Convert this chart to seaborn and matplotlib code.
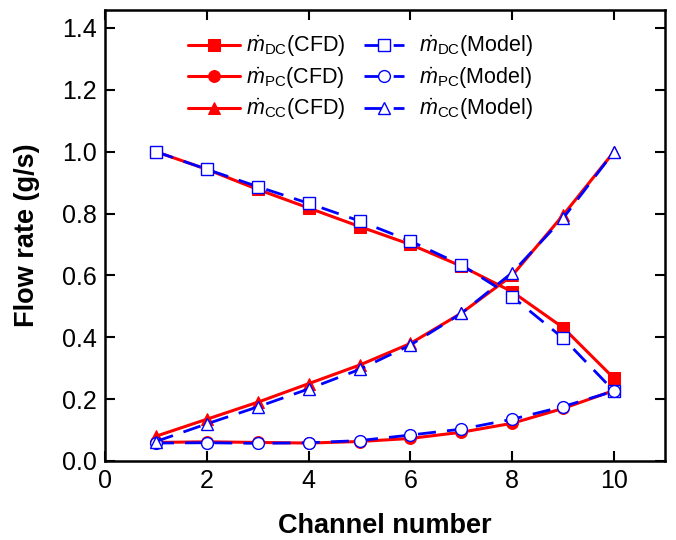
import matplotlib
matplotlib.use("Agg")
import matplotlib.pyplot as plt
import seaborn as sns
import pandas as pd

# Channel index and flow rates (g/s)
channels = [1, 2, 3, 4, 5, 6, 7, 8, 9, 10]
dc_cfd = [1.000, 0.943, 0.878, 0.818, 0.758, 0.700, 0.630, 0.547, 0.431, 0.267]
pc_cfd = [0.060, 0.062, 0.060, 0.058, 0.063, 0.073, 0.093, 0.122, 0.170, 0.228]
cc_cfd = [0.080, 0.135, 0.190, 0.250, 0.310, 0.380, 0.478, 0.600, 0.795, 1.000]
dc_model = [1.000, 0.943, 0.887, 0.833, 0.776, 0.711, 0.634, 0.531, 0.397, 0.226]
pc_model = [0.058, 0.059, 0.057, 0.059, 0.066, 0.084, 0.103, 0.135, 0.176, 0.226]
cc_model = [0.063, 0.120, 0.175, 0.233, 0.296, 0.375, 0.477, 0.609, 0.785, 1.000]

labels_cfd = [r"$\dot{m}_{\mathrm{DC}}$(CFD)", r"$\dot{m}_{\mathrm{PC}}$(CFD)",
              r"$\dot{m}_{\mathrm{CC}}$(CFD)"]
labels_model = [r"$\dot{m}_{\mathrm{DC}}$(Model)", r"$\dot{m}_{\mathrm{PC}}$(Model)",
                r"$\dot{m}_{\mathrm{CC}}$(Model)"]
markers = ["s", "o", "^"]
y_ticks = [0.0, 0.2, 0.4, 0.6, 0.8, 1.0, 1.2, 1.4]
x_ticks = [0, 2, 4, 6, 8, 10]

sns.set_theme(style="white")
plt.rcParams["font.family"] = ["Liberation Sans", "DejaVu Sans"]
plt.rcParams["mathtext.fontset"] = "custom"
plt.rcParams["mathtext.rm"] = "Liberation Sans"
plt.rcParams["mathtext.it"] = "Liberation Sans:italic"
plt.rcParams["mathtext.bf"] = "Liberation Sans:bold"
plt.rcParams["text.color"] = "black"
plt.rcParams["axes.labelcolor"] = "black"

fig = plt.figure(figsize=(6.76, 5.4), dpi=100)
ax = fig.add_axes([0.1553, 0.1463, 0.8284, 0.8352])

red = "#ff0000"
blue = "#0000ff"

cfd_sets = [dc_cfd, pc_cfd, cc_cfd]
model_sets = [dc_model, pc_model, cc_model]

cfd_lines = []
model_lines = []
for vals, lab, mk in zip(cfd_sets, labels_cfd, markers):
    df = pd.DataFrame({"ch": channels, "q": vals})
    sns.lineplot(data=df, x="ch", y="q", ax=ax, color=red, lw=2.2,
                 marker=mk, markersize=8.5, markeredgecolor=red,
                 markerfacecolor=red, zorder=2, legend=False)
    ln = ax.lines[-1]
    ln.set_label(lab)
    cfd_lines.append(ln)
for vals, lab, mk in zip(model_sets, labels_model, markers):
    df = pd.DataFrame({"ch": channels, "q": vals})
    sns.lineplot(data=df, x="ch", y="q", ax=ax, color=blue, lw=2.0,
                 marker=mk, markersize=8.5, markeredgecolor=blue,
                 markerfacecolor="white", markeredgewidth=1.0,
                 zorder=3, legend=False)
    ln = ax.lines[-1]
    ln.set_dashes([6.5, 4])
    ln.set_label(lab)
    model_lines.append(ln)

ax.set_xlim(0, 11)
ax.set_ylim(0, 1.458)
ax.set_xticks(x_ticks)
ax.set_yticks(y_ticks)
ax.set_yticklabels([f"{v:.1f}" for v in y_ticks])

ax.set_xlabel("Channel number", fontsize=19.5, fontweight="bold", labelpad=14,
              color="black")
ax.set_ylabel("Flow rate (g/s)", fontsize=19.5, fontweight="bold", labelpad=16,
              color="black")

ax.tick_params(axis="both", which="major", direction="in", length=7, width=1.5,
               labelsize=18, top=True, right=True, bottom=True, left=True,
               color="black", labelcolor="black", pad=6)
for side in ["top", "right", "bottom", "left"]:
    ax.spines[side].set_visible(True)
    ax.spines[side].set_color("black")
    ax.spines[side].set_linewidth(1.8)

# Two legend columns with their own handle geometry
leg1 = ax.legend(handles=cfd_lines, loc="upper left",
                 bbox_to_anchor=(0.148, 0.947), frameon=False, fontsize=15.5,
                 handlelength=2.4, handletextpad=0.3, labelspacing=0.3,
                 borderaxespad=0.0, borderpad=0.0, labelcolor="black")
ax.add_artist(leg1)
ax.legend(handles=model_lines, loc="upper left",
          bbox_to_anchor=(0.462, 0.947), frameon=False, fontsize=15.5,
          handlelength=1.85, handletextpad=0.7, labelspacing=0.3,
          borderaxespad=0.0, borderpad=0.0, labelcolor="black")

fig.savefig("out.png", dpi=100)
